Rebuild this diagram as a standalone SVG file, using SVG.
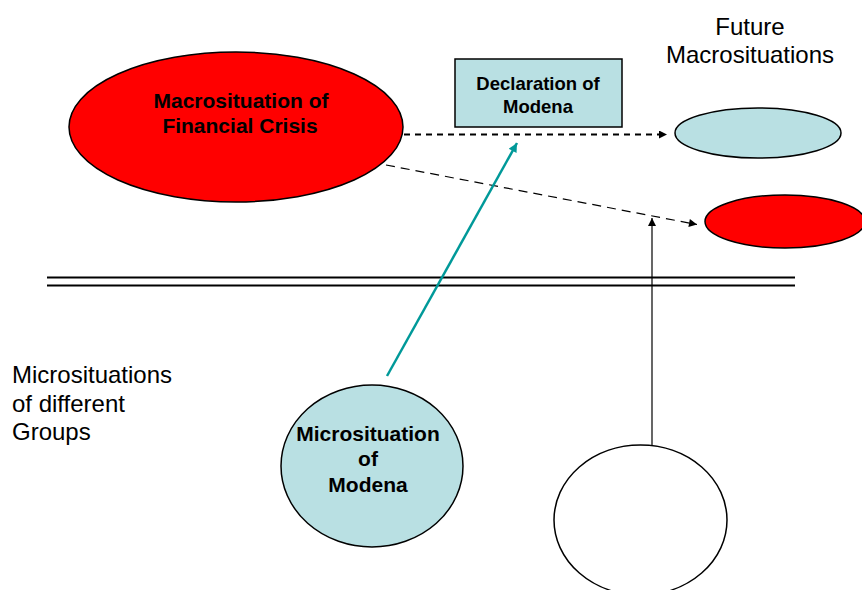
<svg xmlns="http://www.w3.org/2000/svg" width="862" height="590" viewBox="0 0 862 590">
<style>
.n{stroke:#000;stroke-width:1.5}
.b{font-family:"Liberation Sans",Arial,sans-serif;font-weight:bold;fill:#000;text-anchor:middle}
.t{font-family:"Liberation Sans",Arial,sans-serif;fill:#000}
</style>
<defs>
<marker id="ah" viewBox="0 0 10 10" refX="10" refY="5" markerWidth="10" markerHeight="8" markerUnits="userSpaceOnUse" orient="auto"><path d="M0,0L10,5L0,10z" fill="#000"/></marker>
<marker id="ahT" viewBox="0 0 10 10" refX="10" refY="5" markerWidth="11" markerHeight="9" markerUnits="userSpaceOnUse" orient="auto"><path d="M0,0L10,5L0,10z" fill="#009999"/></marker>
</defs>
<rect width="862" height="590" fill="#fff"/>
<g id="separator">
<line x1="47" y1="277.5" x2="795" y2="277.5" stroke="#000" stroke-width="2"/>
<line x1="47" y1="285.5" x2="795" y2="285.5" stroke="#000" stroke-width="2"/>
</g>
<g id="macro-crisis">
<ellipse cx="236" cy="127" rx="167" ry="75" fill="#ff0000" class="n"/>
<text class="b" font-size="21" x="241" y="108">Macrosituation of</text>
<text class="b" font-size="21" x="240" y="133">Financial Crisis</text>
</g>
<g id="declaration">
<rect x="455" y="59" width="167" height="68" fill="#b9e0e3" class="n"/>
<text class="b" font-size="18.5" x="538" y="90">Declaration of</text>
<text class="b" font-size="18.5" x="538" y="113">Modena</text>
</g>
<g id="future-label">
<text class="t" font-size="24" x="750" y="35" text-anchor="middle">Future</text>
<text class="t" font-size="24" x="750" y="63" text-anchor="middle">Macrosituations</text>
</g>
<g id="future-blue">
<ellipse cx="758" cy="133" rx="83" ry="25" fill="#b9e0e3" class="n"/>
</g>
<g id="future-red">
<ellipse cx="785" cy="221.5" rx="80" ry="26.5" fill="#ff0000" class="n"/>
</g>
<g id="micro-label">
<text class="t" font-size="24" x="12" y="383">Microsituations</text>
<text class="t" font-size="24" x="12" y="412">of different</text>
<text class="t" font-size="24" x="12" y="440">Groups</text>
</g>
<g id="micro-modena">
<ellipse cx="372" cy="466" rx="91" ry="81" fill="#b9e0e3" class="n"/>
<text class="b" font-size="21" x="368" y="441">Microsituation</text>
<text class="b" font-size="21" x="368" y="466">of</text>
<text class="b" font-size="21" x="368" y="492">Modena</text>
</g>
<g id="micro-other">
<ellipse cx="640.5" cy="520" rx="86.5" ry="75" fill="#fff" class="n"/>
</g>
<g id="connectors" fill="none">
<line x1="404" y1="134.5" x2="667" y2="134.5" stroke="#000" stroke-width="2" stroke-dasharray="6,5" marker-end="url(#ah)"/>
<line x1="386" y1="165" x2="697" y2="224.5" stroke="#000" stroke-width="1.2" stroke-dasharray="9,6" marker-end="url(#ah)"/>
<line x1="387" y1="376" x2="517" y2="143" stroke="#009999" stroke-width="2.5" marker-end="url(#ahT)"/>
<line x1="652" y1="445" x2="652" y2="218" stroke="#000" stroke-width="1.2" marker-end="url(#ah)"/>
</g>
</svg>
